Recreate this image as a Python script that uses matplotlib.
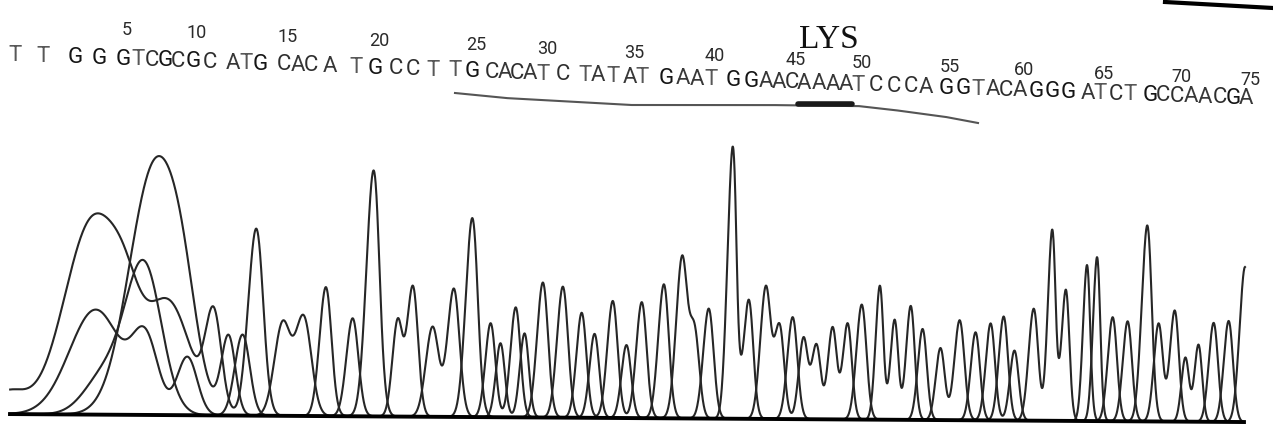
import matplotlib
matplotlib.use("Agg")
import matplotlib.pyplot as plt
import numpy as np
from matplotlib.transforms import Affine2D

# base calls and where each letter sits along the scan (pixels)
sequence = "TTGGGTCGCGCATGCACATGCCTTGCACATCTATATGAATGGAACAAAATCCCAGGTACAGGGATCTGCCAACGA"
base_x = [15, 43, 75, 99, 123, 138, 152, 165, 178, 193, 210, 233, 246, 260, 284, 298, 311,
          330, 356, 375, 396, 413, 433, 455, 472, 492, 505, 517, 530, 543, 563, 585, 598, 613, 630,
          642, 666, 683, 697, 711, 733, 751, 766, 779, 792, 804, 819, 833, 846, 858, 876, 894, 911, 926, 946,
          963, 978, 993, 1006, 1020, 1036, 1052, 1068, 1088, 1100, 1116, 1130, 1150, 1163, 1177, 1191, 1205,
          1220, 1233, 1246]
tick_every = 5

# trace peaks: channel, centre, height, width
peak_ch = list("GTGAGATCGCTGCAGCC"
               "ATGCCTTGCACATCTATATGAATGGAACAAAATCCCAGGTACAGGGATCTGCCAACGA")
peak_x = [8, 95, 92, 105, 125, 143, 145, 152, 168, 182, 187, 213, 228, 242, 255, 282, 303,
          325, 352, 372, 397, 412, 432, 453, 471, 490, 500, 515, 524, 542, 562, 581, 594, 612, 626,
          641, 663, 681, 694, 708, 731, 748, 765, 779, 792, 803, 816, 832, 847, 861, 879, 894, 910, 922, 940,
          959, 975, 990, 1003, 1014, 1033, 1051, 1065, 1086, 1096, 1112, 1127, 1146, 1158, 1174, 1185, 1198,
          1213, 1228, 1244]
peak_h = [22, 105, 195, 40, 50, 148, 70, 242, 110, 75, 58, 95, 78, 81, 187, 92, 98,
          129, 98, 246, 95, 130, 90, 128, 199, 94, 74, 110, 84, 135, 131, 105, 84, 117, 73,
          116, 134, 160, 85, 110, 272, 119, 132, 92, 102, 81, 74, 92, 96, 115, 134, 100, 114, 91, 72,
          100, 88, 97, 104, 70, 112, 191, 131, 156, 164, 104, 100, 196, 98, 111, 64, 77,
          99, 101, 155]
peak_w = [18, 26, 28, 20, 15, 18, 13, 24, 22, 16, 10, 8, 7, 7.5, 7.5, 8, 8,
          6, 6, 6.5, 5, 5.5, 6.5, 6, 6, 5, 4.5, 5, 4.5, 5.5, 5.5, 5, 4.8, 5.2, 4.8,
          5.2, 5.3, 5.5, 5, 5.2, 4.5, 4.8, 5.2, 4.8, 5, 4.5, 4.5, 4.5, 4.5, 5, 3.9, 3.9, 4.3, 4.5, 4.5,
          5, 4.6, 4.6, 4.6, 4.4, 4.8, 3.9, 3.9, 3.6, 3.6, 4.6, 4.6, 5, 4.5, 4.5, 3.8, 3.8,
          4.6, 4.6, 5]

# underlined stretch (base number -> y of the pen line) and the marked codon
underline_base = [24, 27, 35, 43, 50, 52, 55, 57]
underline_y = [93, 98, 105, 105, 106, 110, 117, 123]
codon_bases = (46, 49)
codon_label = "LYS"

fig = plt.figure(figsize=(12.73, 4.25), dpi=100)
fig.patch.set_facecolor("white")

# traces, signal units = pixels above the baseline
ax = fig.add_axes([0, 0, 1, 1])
ax.set_xlim(0, 1273)
ax.set_ylim(-11, 414)
ax.axis("off")

scan = np.linspace(10, 1244, 4000)
tilt = Affine2D().rotate_deg_around(0, 11, -0.37)
px = np.array(peak_x, dtype=float)
ph = np.array(peak_h, dtype=float)
pw = np.array(peak_w, dtype=float)
chans = np.array(peak_ch)
for ch in "ACGT":
    m = chans == ch
    sig = (ph[m][:, None] * np.exp(-0.5 * ((scan[None, :] - px[m][:, None]) / pw[m][:, None]) ** 2)).sum(axis=0)
    ln, = ax.plot(scan, sig, color="#262626", lw=1.5, solid_joinstyle="round")
    ln.set_transform(ax.transData + tilt)
bl, = ax.plot([scan[0], scan[-1]], [0, 0], color="black", lw=2.8)
bl.set_transform(ax.transData + tilt)

# text layer in page pixels
tx = fig.add_axes([0, 0, 1, 1])
tx.set_xlim(0, 1273)
tx.set_ylim(425, 0)
tx.axis("off")
tx.patch.set_alpha(0)

narrow = ["Liberation Sans Narrow", "Roboto"]
letter_col = {"G": "#151515", "C": "#2e2e2e", "A": "#383838", "T": "#585858"}
for i, (b, x) in enumerate(zip(sequence, base_x)):
    tx.text(x, 55 + 0.035 * x, b, ha="center", va="center", fontsize=16,
            family=narrow, color=letter_col[b])
    n = i + 1
    if n % tick_every == 0:
        lx = x + 4
        tx.text(lx, 24 + 0.045 * lx, str(n), ha="center", va="center", fontsize=13,
                family=narrow, color="#2a2a2a")

ux = np.array([base_x[b - 1] for b in underline_base], dtype=float)
grid = np.linspace(ux[0], ux[-1], 300)
tx.plot(grid, np.interp(grid, ux, underline_y), color="#555555", lw=1.5)
c0, c1 = base_x[codon_bases[0] - 1] - 6, base_x[codon_bases[1] - 1] + 6
tx.plot([c0, c1], [104, 104], color="#1a1a1a", lw=4, solid_capstyle="round")
tx.text((c0 + c1) / 2 + 4, 40, codon_label, ha="center", va="center", fontsize=24,
        family="Liberation Serif", color="#111111")

# scan artefact, top right corner
tx.plot([1165, 1273], [2, 8], color="black", lw=3)

fig.savefig("out.png", dpi=100, facecolor="white")
